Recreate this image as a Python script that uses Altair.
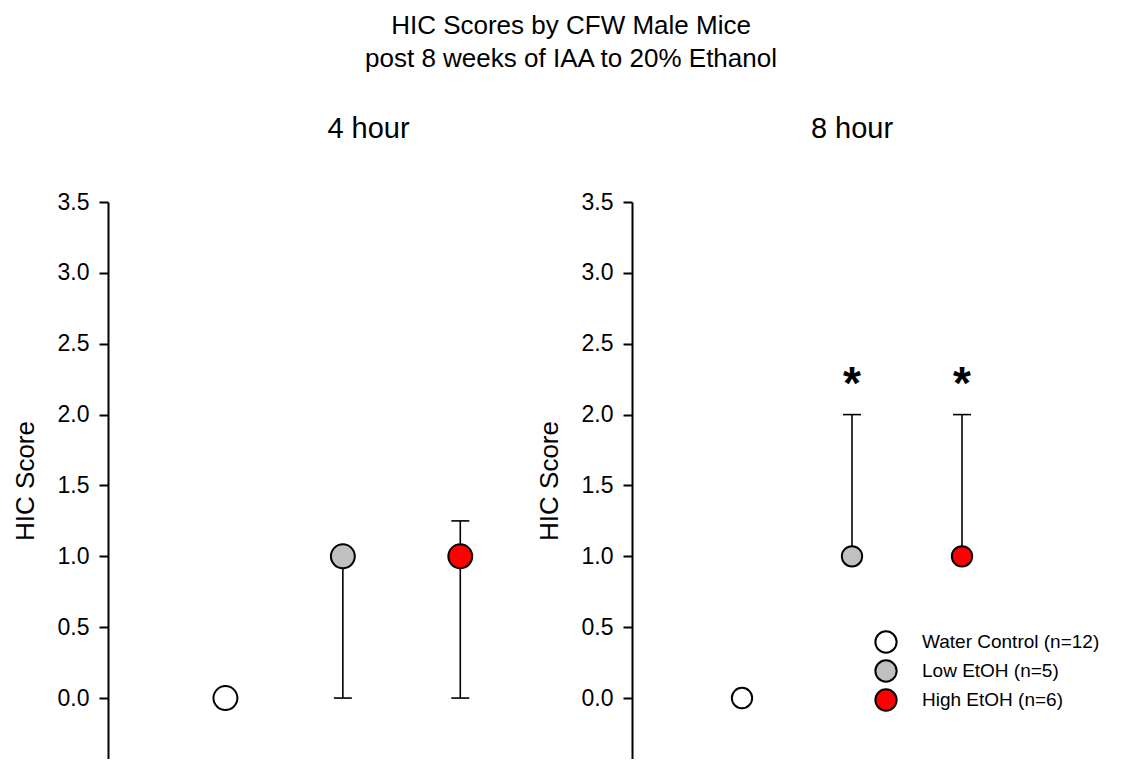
import altair as alt
import pandas as pd

FONT = "Arial, Liberation Sans, sans-serif"

groups = ["Water Control (n=12)", "Low EtOH (n=5)", "High EtOH (n=6)"]
colors = ["#ffffff", "#c0c0c0", "#ff0000"]
xpos = [1, 2, 3]

mean_4h = [0.0, 1.0, 1.0]
lower_4h = [0.0, 0.0, 0.0]
upper_4h = [0.0, 1.0, 1.25]
sig_4h = ["", "", ""]

mean_8h = [0.0, 1.0, 1.0]
lower_8h = [0.0, 1.0, 1.0]
upper_8h = [0.0, 2.0, 2.0]
sig_8h = ["", "*", "*"]

y_ticks = [0.0, 0.5, 1.0, 1.5, 2.0, 2.5, 3.0, 3.5]
y_domain = [-0.43, 3.5]

yaxis = alt.Axis(values=y_ticks, format=".1f", title="HIC Score")


def panel(title, mean, lower, upper, sig, width, xmax, size, dx, legend):
    df = pd.DataFrame({"group": groups, "x": xpos, "mean": mean,
                       "lower": lower, "upper": upper, "sig": sig})
    caps = []
    for g, xx, m, lo, up in zip(groups, xpos, mean, lower, upper):
        if lo < m:
            caps.append({"x": xx, "cap": lo})
        if up > m:
            caps.append({"x": xx, "cap": up})
    caps_df = pd.DataFrame(caps)

    xenc = alt.X("x:Q", scale=alt.Scale(domain=[0, xmax], nice=False, zero=False), axis=None)
    yscale = alt.Scale(domain=y_domain, nice=False, zero=False)

    rules = alt.Chart(df).mark_rule(color="black", strokeWidth=1.6).encode(
        x=xenc,
        y=alt.Y("lower:Q", scale=yscale, axis=yaxis),
        y2="upper:Q",
    )
    capm = alt.Chart(caps_df).mark_tick(orient="horizontal", size=18, thickness=1.6,
                                         color="black", opacity=1).encode(
        x=xenc,
        y=alt.Y("cap:Q", scale=yscale, axis=yaxis),
    )
    pts = alt.Chart(df).mark_circle(size=size, opacity=1, stroke="black",
                                    strokeWidth=2).encode(
        x=xenc,
        y=alt.Y("mean:Q", scale=yscale, axis=yaxis),
        fill=alt.Fill("group:N", scale=alt.Scale(domain=groups, range=colors),
                      sort=groups, legend=legend),
    )
    txt = alt.Chart(df).transform_filter("datum.sig != ''").mark_text(
        font=FONT, fontSize=46, fontWeight="bold", color="black",
        baseline="middle", dy=-30).encode(
        x=xenc,
        y=alt.Y("upper:Q", scale=yscale, axis=yaxis),
        text="sig:N",
    )
    return alt.layer(rules, capm, pts, txt).properties(
        width=width, height=557,
        title=alt.TitleParams(title, fontSize=29, fontWeight="normal", font=FONT,
                              color="black", anchor="middle", offset=47, dx=dx),
    )


legend_r = alt.Legend(
    title=None, orient="none", legendX=242, legendY=428,
    symbolType="circle", symbolSize=452, symbolStrokeColor="black",
    symbolStrokeWidth=2, symbolOpacity=1, labelFontSize=19, labelFont=FONT,
    labelColor="black", labelOffset=24, labelLimit=400, rowPadding=-1, padding=0,
)

left = panel("4 hour", mean_4h, lower_4h, upper_4h, sig_4h, 411, 3.5, 572, 55, None)
right = panel("8 hour", mean_8h, lower_8h, upper_8h, sig_8h, 440, 4.0, 415, 0, legend_r)

chart = alt.hconcat(left, right, spacing=17).resolve_scale(fill="independent").properties(
    title=alt.TitleParams(["HIC Scores by CFW Male Mice", "post 8 weeks of IAA to 20% Ethanol"],
                          fontSize=26, lineHeight=33, fontWeight="normal", font=FONT,
                          color="black", anchor="middle", offset=43, dx=15),
    padding={"left": 12, "top": 13, "right": 0, "bottom": 0},
).configure_view(stroke=None).configure_axis(
    grid=False, domainColor="black", domainWidth=2, tickColor="black", tickWidth=2,
    tickSize=9, labelFontSize=23, labelFont=FONT, labelColor="black", labelPadding=10,
    titleFont=FONT, titleFontSize=26, titleFontWeight="normal", titleColor="black",
    titlePadding=19,
)

chart.save("out.html", embed_options={"renderer": "svg", "actions": False})
